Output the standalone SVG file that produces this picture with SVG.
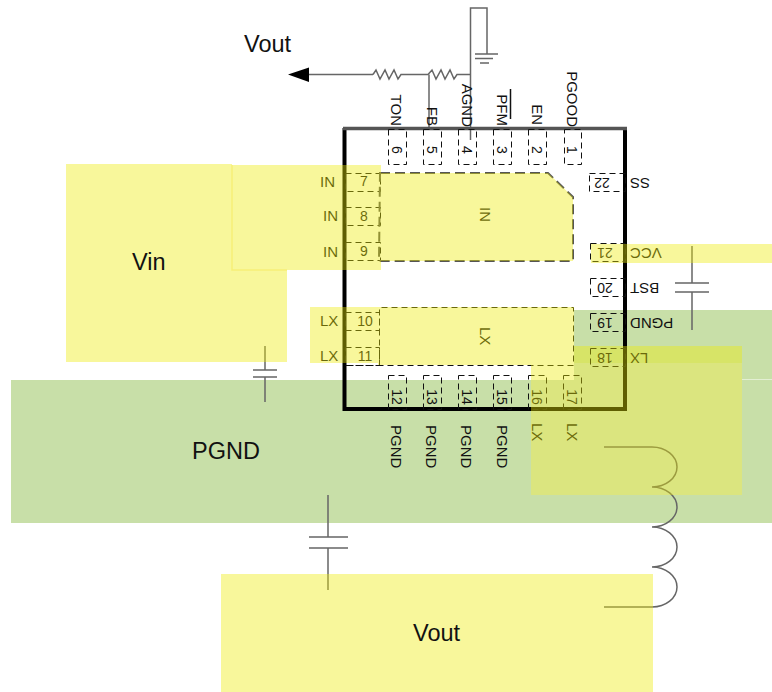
<svg xmlns="http://www.w3.org/2000/svg" width="772" height="692" viewBox="0 0 772 692">
<style>
text{font-family:"Liberation Sans",Arial,sans-serif;fill:#111}
.l{font-size:15px}.n{font-size:14px}.b{font-size:23.500px}
.m{text-anchor:middle}.e{text-anchor:end}
.pin{fill:none;stroke:#111;stroke-width:1;stroke-dasharray:6 4;transform:translate(.5px,.5px)}
.w{fill:none;stroke:#666;stroke-width:1.500}
.y{fill:#edea05;fill-opacity:.4}
.g{fill:#c8dfa8}
</style>

<g id="pgnd-plane"><rect class="g" x="11" y="380" width="761" height="143"/><rect class="g" x="574" y="310" width="198" height="69.500"/>
<path d="M574 363H742V495H531V380H574Z" fill="#cfe2d0"/></g>

<g id="connectors">
<path d="M288 74.500L309 67.500V82Z" fill="#000"/>
<path class="w" d="M309 74.500H373"/>
<path class="w" d="M373 74.500L376 70L380 79L385 70L389 79L394 70L398 79L401 74.500H428L432 70L436 79L441 70L445 79L450 70L454 79L457 74.500H470"/>
<path class="w" d="M429 74.500V130"/>
<path class="w" d="M470.500 140V8H487V54"/>
<path class="w" d="M475 54H498M475 58.500H493M480 63H489"/>
<path class="w" d="M604 447H652A25 20 0 0 1 652 487A25 20 0 0 1 652 527A25 20 0 0 1 652 567A25 20 0 0 1 652 607H604"/>
<path class="w" d="M265 346V370M253 370H277M253 377H277M265 377V402"/>
<path class="w" d="M328 495V537M309 537H348M309 548H348M328 548V590"/>
<path class="w" d="M692 246V283M675 283H709M675 292H709M692 292V330"/>
</g>

<g id="chip">
<path d="M344.500 128V409H625V128" fill="none" stroke="#000" stroke-width="4"/>
<path d="M343 128.500H627" fill="none" stroke="#555" stroke-width="3.500"/>
</g>

<g id="pin-6"><rect class="pin" x="388" y="129" width="18" height="35"/><text class="n m" transform="translate(392 150) rotate(90)">6</text><text class="l e" transform="translate(391 126) rotate(90)">TON</text></g>
<g id="pin-5"><rect class="pin" x="423" y="129" width="18" height="35"/><text class="n m" transform="translate(427 150) rotate(90)">5</text><text class="l e" transform="translate(427 126) rotate(90)">FB</text></g>
<g id="pin-4"><rect class="pin" x="458" y="129" width="18" height="35"/><text class="n m" transform="translate(462 150) rotate(90)">4</text><text class="l e" transform="translate(462 127) rotate(90)">AGND</text></g>
<g id="pin-3"><rect class="pin" x="493" y="129" width="18" height="35"/><text class="n m" transform="translate(497 150) rotate(90)">3</text><text class="l e" transform="translate(497 126) rotate(90)">PFM</text><path d="M510.500 89V119" stroke="#111" stroke-width="1.500"/></g>
<g id="pin-2"><rect class="pin" x="528" y="129" width="18" height="35"/><text class="n m" transform="translate(532 150) rotate(90)">2</text><text class="l e" transform="translate(532 125) rotate(90)">EN</text></g>
<g id="pin-1"><rect class="pin" x="564" y="129" width="17" height="35"/><text class="n m" transform="translate(567 150) rotate(90)">1</text><text class="l e" transform="translate(567 127) rotate(90)">PGOOD</text></g>

<g id="pin-7"><rect class="pin" x="345" y="173" width="35" height="18"/><text class="n m" x="364" y="186">7</text><text class="l" x="320" y="187">IN</text></g>
<g id="pin-8"><rect class="pin" x="345" y="207" width="35" height="18"/><text class="n m" x="364" y="221">8</text><text class="l" x="323" y="221">IN</text></g>
<g id="pin-9"><rect class="pin" x="345" y="242" width="35" height="18"/><text class="n m" x="364" y="256">9</text><text class="l" x="323" y="257">IN</text></g>
<g id="pin-10"><rect class="pin" x="345" y="312" width="34" height="18"/><text class="n m" x="365" y="326">10</text><text class="l" x="320" y="326">LX</text></g>
<g id="pin-11"><rect class="pin" x="345" y="347" width="34" height="18"/><text class="n m" x="365" y="361">11</text><text class="l" x="320" y="361">LX</text></g>

<g id="pin-12"><rect class="pin" x="388" y="375" width="18" height="34"/><text class="n m" transform="translate(392 397) rotate(90)">12</text><text class="l" transform="translate(391 425) rotate(90)">PGND</text></g>
<g id="pin-13"><rect class="pin" x="423" y="375" width="18" height="34"/><text class="n m" transform="translate(427 397) rotate(90)">13</text><text class="l" transform="translate(426 425) rotate(90)">PGND</text></g>
<g id="pin-14"><rect class="pin" x="458" y="375" width="18" height="34"/><text class="n m" transform="translate(462 397) rotate(90)">14</text><text class="l" transform="translate(461 425) rotate(90)">PGND</text></g>
<g id="pin-15"><rect class="pin" x="493" y="375" width="18" height="34"/><text class="n m" transform="translate(497 397) rotate(90)">15</text><text class="l" transform="translate(497 425) rotate(90)">PGND</text></g>
<g id="pin-16"><rect class="pin" x="528" y="375" width="18" height="34"/><text class="n m" transform="translate(532 397) rotate(90)">16</text><text class="l" transform="translate(532 423) rotate(90)">LX</text></g>
<g id="pin-17"><rect class="pin" x="563" y="375" width="18" height="34"/><text class="n m" transform="translate(567 397) rotate(90)">17</text><text class="l" transform="translate(567 423) rotate(90)">LX</text></g>

<g id="pin-18"><rect class="pin" x="590" y="348" width="35" height="18"/><text class="n m" transform="translate(605 353) rotate(180)">18</text><text class="l e" transform="translate(630 353) rotate(180)">LX</text></g>
<g id="pin-19"><rect class="pin" x="590" y="313" width="35" height="18"/><text class="n m" transform="translate(605 318) rotate(180)">19</text><text class="l e" transform="translate(630 318) rotate(180)">PGND</text></g>
<g id="pin-20"><rect class="pin" x="590" y="278" width="35" height="18"/><text class="n m" transform="translate(605 283) rotate(180)">20</text><text class="l e" transform="translate(630 283) rotate(180)">BST</text></g>
<g id="pin-21"><rect class="pin" x="590" y="243" width="35" height="18"/><text class="n m" transform="translate(605 248) rotate(180)">21</text><text class="l e" transform="translate(630 248) rotate(180)">VCC</text></g>
<g id="pin-22"><rect class="pin" x="589" y="173" width="36" height="18"/><text class="n m" transform="translate(602 178) rotate(180)">22</text><text class="l e" transform="translate(630 178) rotate(180)">SS</text></g>

<g id="pad-lx-outline"><path class="pin" d="M379 365V307H573V365H347"/><text class="l" transform="translate(480 327) rotate(90)">LX</text></g>
<g id="pad-in"><path d="M380 173H548L573 197V261H379Z" fill="none" stroke="#555" stroke-width="2" stroke-dasharray="10 5"/><text class="l" transform="translate(480 207) rotate(90)">IN</text></g>

<g id="yellow-planes">
<path class="y" d="M66 164H232V270H287V362H66Z"/>
<rect class="y" x="232" y="165" width="149" height="105"/>
<path d="M232 165V270H287" fill="none" stroke="#f6ef78" stroke-width="1.500"/>
<path class="y" d="M381 173H548L573 197V261H381Z"/>
<path class="y" d="M310 307H574V346H742V495H531V365H378V363H310Z"/>
<rect class="y" x="591" y="244" width="181" height="19"/>
<rect class="y" x="221" y="574" width="432" height="118"/>
</g>

<g id="plane-labels">
<text class="b" x="244" y="52">Vout</text>
<text class="b" x="132" y="270">Vin</text>
<text class="b" x="192" y="459">PGND</text>
<text class="b" x="413" y="641">Vout</text>
</g>
</svg>
